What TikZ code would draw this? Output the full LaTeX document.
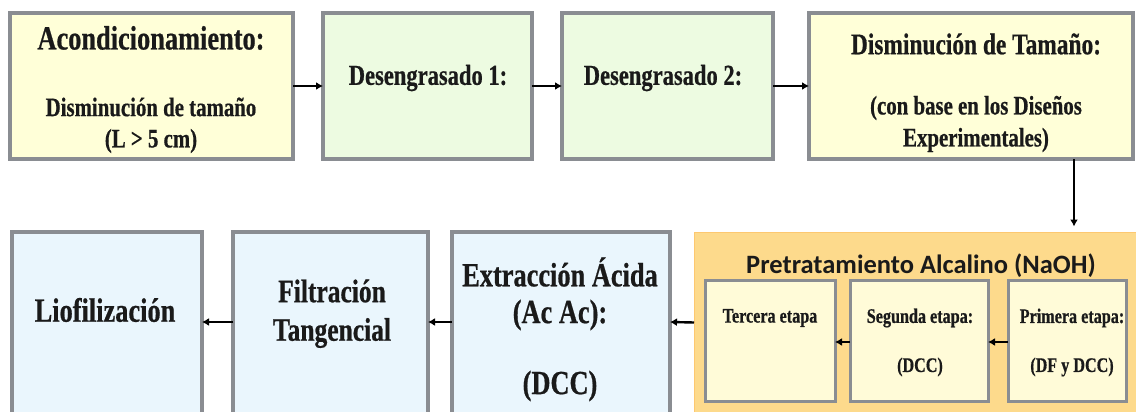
\documentclass[tikz,border=0pt]{standalone}
\usepackage{fontspec}
\usetikzlibrary{arrows.meta,calc}
\newfontfamily\tnrfont[FakeStretch=0.78,FakeBold=0.6]{Liberation Serif}
\newfontfamily\calfont{Carlito}
\definecolor{byel}{HTML}{FFFFD8}
\definecolor{bgrn}{HTML}{EDFBE1}
\definecolor{bblu}{HTML}{EAF6FD}
\definecolor{bora}{HTML}{FDDA8C}
\definecolor{bcrm}{HTML}{FFFBD8}
\definecolor{bgry}{HTML}{8A8D92}
\definecolor{txt}{HTML}{1A1A1A}
\tikzset{
  box/.style={draw=bgry, line width=3.5pt, inner sep=0pt, outer sep=0pt},
  sbox/.style={draw=bgry, line width=3pt, inner sep=0pt, outer sep=0pt},
  arr/.style={draw=black, line width=2.4pt, -{Latex[length=7pt,width=8pt]}},
  t/.style={text=txt, inner sep=0pt, align=center, font=\tnrfont\bfseries},
}
\newcommand{\fsz}[1]{\fontsize{#1}{#1}\selectfont}
\begin{document}
\begin{tikzpicture}[x=1pt,y=-1pt]
\clip (0,0) rectangle (1136,412);
\fill[white] (0,0) rectangle (1136,412);
% top row
\node[box, fill=byel, minimum width=283pt, minimum height=146pt] (b1) at (151.5,86) {};
\node[box, fill=bgrn, minimum width=209pt, minimum height=146pt] (b2) at (427.5,86) {};
\node[box, fill=bgrn, minimum width=211pt, minimum height=146pt] (b3) at (667.5,86) {};
\node[box, fill=byel, minimum width=324pt, minimum height=146pt] (b4) at (971,86) {};
% bottom row
\node[box, fill=bblu, minimum width=190pt, minimum height=186pt] (lio) at (107,325) {};
\node[box, fill=bblu, minimum width=195pt, minimum height=186pt] (fil) at (330.5,325) {};
\node[box, fill=bblu, minimum width=218pt, minimum height=186pt] (ext) at (561,325) {};
\node[fill=bora, draw=bora!80!orange, line width=1pt, minimum width=450pt, minimum height=186pt, inner sep=0pt, outer sep=0pt] (ora) at (919,325.5) {};
\node[sbox, fill=bcrm, minimum width=130pt, minimum height=121pt] (ter) at (770,340.5) {};
\node[sbox, fill=bcrm, minimum width=138pt, minimum height=121pt] (seg) at (919,340.5) {};
\node[sbox, fill=bcrm, minimum width=118pt, minimum height=121pt] (pri) at (1067,340.5) {};
% texts top
\node[t] (t1a) at (151,38) {\fsz{33.8}Acondicionamiento:};
\node[t] (t1b) at (151,107) {\fsz{26.7}Disminución de tamaño};
\node[t] (t1c) at (151,141) {\fsz{26.7}(L > 5 cm)};
\node[t] (t2) at (428,78) {\fsz{28.9}Desengrasado 1:};
\node[t] (t3) at (663,78) {\fsz{28.9}Desengrasado 2:};
\node[t] (t4a) at (976,44) {\fsz{30}Disminución de Tamaño:};
\node[t] (t4b) at (976,108) {\fsz{26.7}(con base en los Diseños};
\node[t] (t4c) at (976,140) {\fsz{26.7}Experimentales)};
% texts bottom
\node[t] (tl) at (105,310) {\fsz{33.8}Liofilización};
\node[t] (tf1) at (332,291) {\fsz{32.7}Filtración};
\node[t] (tf2) at (332,333) {\fsz{32.7}Tangencial};
\node[t] (te1) at (560,272) {\fsz{33.8}Extracción Ácida};
\node[t] (te2) at (560,315) {\fsz{33.8}(Ac Ac):};
\node[t] (te3) at (560,386) {\fsz{33.8}(DCC)};
\node[text=txt, inner sep=0pt, font=\calfont\bfseries] (tor) at (921,266) {\fsz{26.5}Pretratamiento Alcalino (NaOH)};
\node[t] (tt) at (770,318) {\fsz{20.7}Tercera etapa};
\node[t] (ts1) at (920,318) {\fsz{20.7}Segunda etapa:};
\node[t] (ts2) at (920,367) {\fsz{20.7}(DCC)};
\node[t] (tp1) at (1072,318) {\fsz{20.7}Primera etapa:};
\node[t] (tp2) at (1072,367) {\fsz{20.7}(DF y DCC)};
% connectors
\draw[arr] (b1.east) -- (b2.west);
\draw[arr] (b2.east) -- (b3.west);
\draw[arr] (b3.east) -- (b4.west);
\draw[arr] ([xshift=103pt]b4.south) -- ([xshift=103pt,yshift=6pt]b4.south |- ora.north);
\draw[arr] ([yshift=3pt]ora.west) -- ([yshift=3pt]ext.east);
\draw[arr] ([yshift=3pt]ext.west) -- ([yshift=3pt]fil.east);
\draw[arr] ([yshift=3pt]fil.west) -- ([yshift=3pt]lio.east);
\draw[arr] ([yshift=-1.5pt]pri.west) -- ([yshift=-1.5pt]seg.east);
\draw[arr] ([yshift=-1.5pt]seg.west) -- ([yshift=-1.5pt]ter.east);
\end{tikzpicture}
\end{document}
